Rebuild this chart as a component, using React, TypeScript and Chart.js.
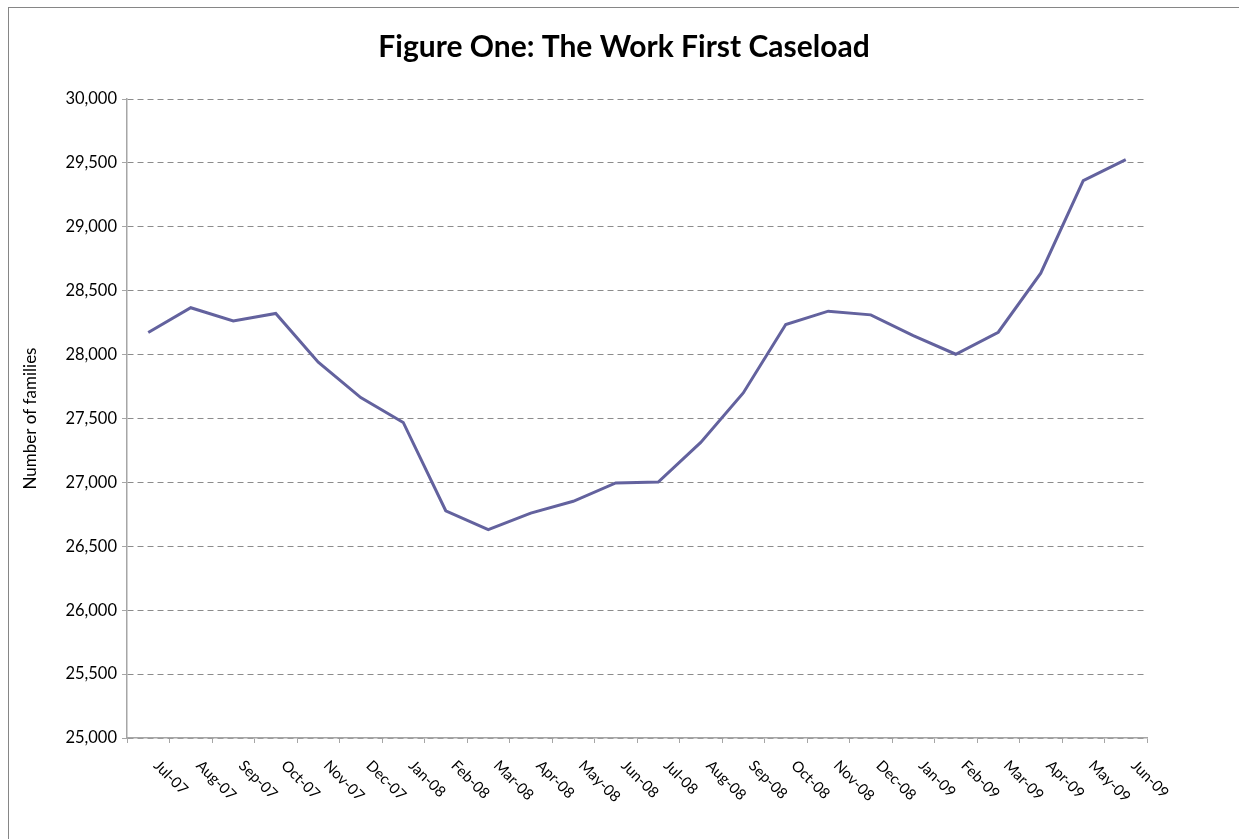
import React, { useEffect, useRef } from "react";
import { Chart, registerables } from "chart.js";

Chart.register(...registerables);

const months = [
  "Jul-07", "Aug-07", "Sep-07", "Oct-07", "Nov-07", "Dec-07",
  "Jan-08", "Feb-08", "Mar-08", "Apr-08", "May-08", "Jun-08",
  "Jul-08", "Aug-08", "Sep-08", "Oct-08", "Nov-08", "Dec-08",
  "Jan-09", "Feb-09", "Mar-09", "Apr-09", "May-09", "Jun-09",
];

const caseload = [
  28173, 28367, 28263, 28322, 27940, 27664,
  27469, 26778, 26631, 26760, 26852, 26996,
  27003, 27313, 27700, 28235, 28340, 28311,
  28149, 28003, 28175, 28637, 29362, 29526,
];

const yMin = 25000;
const yMax = 30000;
const yStep = 500;

const chartTitle = "Figure One: The Work First Caseload";
const yAxisTitle = "Number of families";

const FONT = "Lato, 'Open Sans', sans-serif";

export default function App() {
  const ref = useRef<HTMLCanvasElement>(null);

  useEffect(() => {
    if (!ref.current) return;

    const rotatedLabels = {
      id: "rotatedLabels",
      afterDraw(chart: any) {
        const xs = chart.scales.x;
        const ctx = chart.ctx;
        ctx.save();
        ctx.font = `15px ${FONT}`;
        ctx.fillStyle = "#000000";
        ctx.textAlign = "left";
        ctx.textBaseline = "middle";
        months.forEach((m, i) => {
          const x = xs.getPixelForValue(i);
          ctx.save();
          ctx.translate(x + 8, xs.top + 25);
          ctx.rotate(Math.PI / 4);
          ctx.fillText(m, 0, 0);
          ctx.restore();
        });
        ctx.restore();
      },
    };

    const chart = new Chart(ref.current, {
      type: "line",
      data: {
        labels: months,
        datasets: [
          {
            label: "Caseload",
            data: caseload,
            borderColor: "#63629e",
            backgroundColor: "#63629e",
            borderWidth: 3,
            pointRadius: 0,
            tension: 0,
            fill: false,
            yAxisID: "y",
          },
        ],
      },
      options: {
        responsive: true,
        maintainAspectRatio: false,
        animation: false,
        layout: { padding: 0 },
        plugins: {
          legend: { display: false },
          tooltip: { enabled: false },
          title: {
            display: true,
            text: chartTitle,
            color: "#000000",
            font: { family: FONT, size: 30, weight: "bold" },
            padding: { top: 21, bottom: 34 },
          },
        },
        scales: {
          x: {
            type: "category",
            offset: true,
            ticks: { display: false },
            grid: {
              display: true,
              offset: true,
              drawOnChartArea: false,
              drawTicks: true,
              tickLength: 5,
              tickColor: "#a6a6a6",
              tickWidth: 1,
            },
            border: { display: true, color: "#a6a6a6", width: 1.5 },
            afterFit(scale: any) {
              scale.height = 101;
            },
          },
          y: {
            position: "left",
            min: yMin,
            max: yMax,
            ticks: {
              stepSize: yStep,
              color: "#000000",
              font: { family: FONT, size: 16.5 },
              padding: 5,
              callback: (v: any) => Number(v).toLocaleString("en-US"),
            },
            grid: {
              color: "#8c8c8c",
              lineWidth: 1,
              drawTicks: true,
              tickLength: 5,
              tickColor: "#a6a6a6",
              tickWidth: 1,
              tickBorderDash: [],
            },
            border: { display: true, color: "#a6a6a6", width: 1.5, dash: [6, 4] },
            title: {
              display: true,
              text: yAxisTitle,
              color: "#000000",
              font: { family: FONT, size: 17 },
              padding: { top: 11, bottom: 0 },
            },
            afterFit(scale: any) {
              scale.width = 118;
            },
          },
          spacer: {
            type: "linear",
            axis: "y",
            position: "right",
            min: yMin,
            max: yMax,
            ticks: { display: false },
            grid: { display: false, drawTicks: false },
            border: { display: false },
            afterFit(scale: any) {
              scale.width = 92;
            },
          },
        },
      },
      plugins: [rotatedLabels],
    });

    return () => chart.destroy();
  }, []);

  return (
    <div
      style={{
        position: "fixed",
        left: 8,
        top: 7,
        width: 1230,
        height: 831,
        borderLeft: "1px solid #868686",
        borderTop: "1px solid #868686",
        background: "#ffffff",
      }}
    >
      <canvas ref={ref} />
    </div>
  );
}
